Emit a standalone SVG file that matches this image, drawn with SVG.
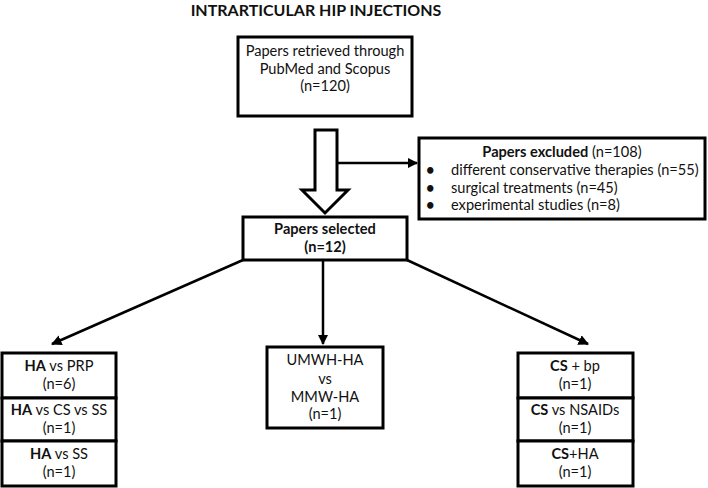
<svg xmlns="http://www.w3.org/2000/svg" width="708" height="488" viewBox="0 0 708 488">
<style>
  text { font-family: Lato, "Liberation Sans", sans-serif; font-size: 14.6px; fill: #111; }
  .c { text-anchor: middle; }
  .b { font-weight: bold; }
  .title { font-size: 16px; font-weight: bold; }
  .bul { font-weight: bold; }
  .box { fill: #fff; stroke: #000; stroke-width: 3; }
  .conn { stroke: #000; stroke-width: 2.5; fill: none; }
</style>
<defs>
  <marker id="ah" viewBox="0 0 10 10" refX="9" refY="5" markerWidth="4.2" markerHeight="4.2" orient="auto" markerUnits="strokeWidth">
    <path d="M0,0 L10,5 L0,10 z" fill="#000"/>
  </marker>
</defs>
<rect width="708" height="488" fill="#fff"/>
<text class="title c" x="316" y="16">INTRARTICULAR HIP INJECTIONS</text>

<g id="connectors">
  <polygon class="box" points="315,130 337,130 337,190 348,190 325,213 302,190 315,190"/>
  <line class="conn" x1="337" y1="163" x2="417" y2="163" marker-end="url(#ah)"/>
  <line class="conn" x1="243" y1="260" x2="52" y2="344" marker-end="url(#ah)"/>
  <line class="conn" x1="323" y1="260" x2="323" y2="344" marker-end="url(#ah)"/>
  <line class="conn" x1="407" y1="260" x2="588" y2="344" marker-end="url(#ah)"/>
</g>

<g id="retrieved">
  <rect class="box" x="238" y="37" width="174" height="79"/>
  <text class="c" x="325" y="56">Papers retrieved through</text>
  <text class="c" x="325" y="74">PubMed and Scopus</text>
  <text class="c" x="325" y="91">(n=120)</text>
</g>

<g id="excluded">
  <rect class="box" x="419" y="138" width="286" height="81"/>
  <text class="c" x="562" y="157"><tspan class="b">Papers excluded</tspan> (n=108)</text>
  <text class="bul" x="426" y="175">•</text>
  <text x="451" y="175">different conservative therapies (n=55)</text>
  <text class="bul" x="426" y="193">•</text>
  <text x="451" y="193">surgical treatments (n=45)</text>
  <text class="bul" x="426" y="210">•</text>
  <text x="451" y="210">experimental studies (n=8)</text>
</g>

<g id="selected">
  <rect class="box" x="243" y="217" width="164" height="43"/>
  <text class="c b" x="325" y="234">Papers selected</text>
  <text class="c b" x="325" y="252">(n=12)</text>
</g>

<g id="ha-group">
  <rect class="box" x="2" y="353" width="114" height="45"/>
  <rect class="box" x="2" y="398" width="114" height="43"/>
  <rect class="box" x="2" y="441" width="114" height="45"/>
  <text class="c" x="59" y="371"><tspan class="b">HA</tspan> vs PRP</text>
  <text class="c" x="59" y="389">(n=6)</text>
  <text class="c" x="59" y="415"><tspan class="b">HA</tspan> vs CS vs SS</text>
  <text class="c" x="59" y="433">(n=1)</text>
  <text class="c" x="59" y="459"><tspan class="b">HA</tspan> vs SS</text>
  <text class="c" x="59" y="477">(n=1)</text>
</g>

<g id="umwh">
  <rect class="box" x="267" y="347" width="116" height="81"/>
  <text class="c" x="325" y="365">UMWH-HA</text>
  <text class="c" x="325" y="384">vs</text>
  <text class="c" x="325" y="402">MMW-HA</text>
  <text class="c" x="325" y="419">(n=1)</text>
</g>

<g id="cs-group">
  <rect class="box" x="518" y="353" width="115" height="45"/>
  <rect class="box" x="518" y="398" width="115" height="43"/>
  <rect class="box" x="518" y="441" width="115" height="45"/>
  <text class="c" x="575" y="371"><tspan class="b">CS</tspan> + bp</text>
  <text class="c" x="575" y="389">(n=1)</text>
  <text class="c" x="575" y="415"><tspan class="b">CS</tspan> vs NSAIDs</text>
  <text class="c" x="575" y="433">(n=1)</text>
  <text class="c" x="575" y="459"><tspan class="b">CS</tspan>+HA</text>
  <text class="c" x="575" y="477">(n=1)</text>
</g>
</svg>
